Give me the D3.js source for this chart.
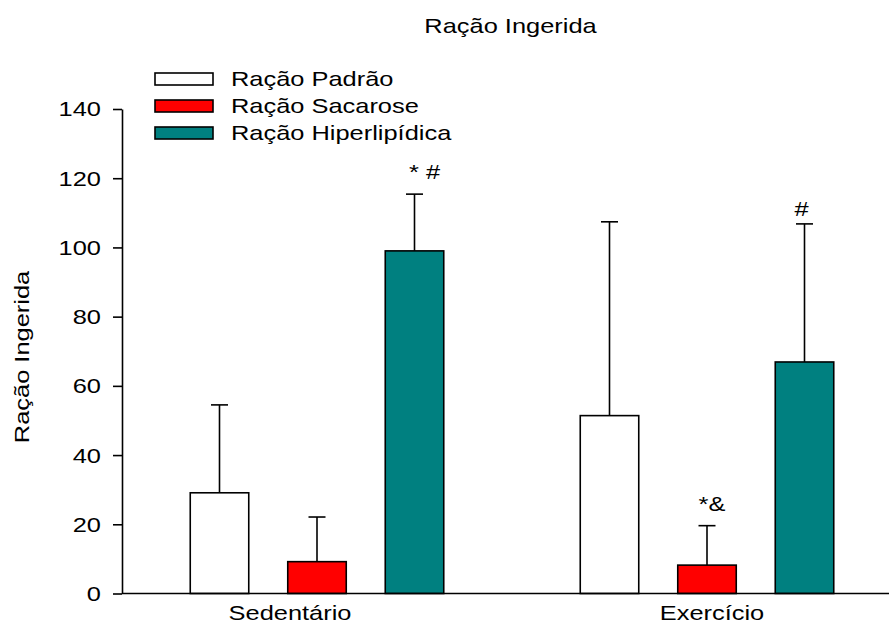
<!DOCTYPE html>
<html>
<head>
<meta charset="utf-8">
<script src="https://cdn.jsdelivr.net/npm/d3@7"></script>
<style>
  body { margin: 0; background: #fff; }
  svg { display: block; }
  text { font-family: "Liberation Sans", Arial, sans-serif; fill: #000; }
</style>
</head>
<body>
<svg id="chart" width="891" height="626"></svg>
<script>
// Feed intake per diet, sedentary vs exercised groups (mean + upper SD)
const groups = ["Sedentário", "Exercício"];
const series = ["Ração Padrão", "Ração Sacarose", "Ração Hiperlipídica"];
const seriesColors = ["#ffffff", "#ff0000", "#008080"];
const meanSedentario = [29.1, 9.2, 99.0];
const meanExercicio  = [51.4, 8.2, 66.9];
const sdSedentario   = [25.4, 12.9, 16.4];
const sdExercicio    = [56.0, 11.4, 39.9];
const yTicks = [0, 20, 40, 60, 80, 100, 120, 140];
const significance = [
  { group: "Sedentário", series: "Ração Hiperlipídica", text: "* #" },
  { group: "Exercício",  series: "Ração Sacarose",      text: "*&" },
  { group: "Exercício",  series: "Ração Hiperlipídica", text: "#" }
];
const titleText = "Ração Ingerida";
const yTitleText = "Ração Ingerida";

const means = { "Sedentário": meanSedentario, "Exercício": meanExercicio };
const sds   = { "Sedentário": sdSedentario,   "Exercício": sdExercicio };
const rows = groups.flatMap(g => series.map((s, i) => ({
  group: g, series: s, mean: means[g][i], sd: sds[g][i], color: seriesColors[i]
})));

// wide lettering: glyphs widened along the reading direction
const SX = 1.24;
const FS = 20.5;

const svg = d3.select("#chart");
const axisLeftX = 122, axisRightX = 889;
const y = d3.scaleLinear().domain([0, 140]).range([593.5, 109]);
const x0 = d3.scaleBand().domain(groups).range([axisLeftX, axisLeftX + 780]);
const clusterW = 292.5;
const x1 = d3.scaleBand().domain(series).range([0, clusterW]).paddingInner(0.4).paddingOuter(0.2);
const groupLeft = g => x0(g) + (x0.bandwidth() - clusterW) / 2;
const barX = d => groupLeft(d.group) + x1(d.series);
const barCx = d => barX(d) + x1.bandwidth() / 2;

const stretch = (tx, ty) => `translate(${tx},${ty}) scale(${SX},1)`;

// title
svg.append("text")
  .attr("text-anchor", "middle")
  .attr("font-size", FS)
  .attr("transform", stretch(510.5, 33))
  .text(titleText);

// y axis
const yAxis = svg.append("g")
  .attr("transform", `translate(${axisLeftX},0)`)
  .call(d3.axisLeft(y).tickValues(yTicks).tickSize(9).tickSizeOuter(0).tickFormat(d3.format("d")));
yAxis.attr("font-size", FS).attr("font-family", null);
yAxis.selectAll("path.domain").attr("stroke", "#000").attr("stroke-width", 1.6);
yAxis.selectAll(".tick line").attr("stroke", "#000").attr("stroke-width", 1.6);
yAxis.selectAll(".tick text")
  .attr("x", 0)
  .attr("dy", "0.34em")
  .attr("transform", stretch(-21, 0));

// y axis title
svg.append("text")
  .attr("text-anchor", "middle")
  .attr("font-size", FS)
  .attr("transform", `translate(29,357) rotate(-90) scale(${SX},1)`)
  .text(yTitleText);

// bars
svg.append("g").selectAll("rect")
  .data(rows)
  .join("rect")
  .attr("x", barX)
  .attr("width", x1.bandwidth())
  .attr("y", d => y(d.mean))
  .attr("height", d => y(0) - y(d.mean))
  .attr("fill", d => d.color)
  .attr("stroke", "#000")
  .attr("stroke-width", 1.6);

// upper error bars
const capW = 17;
const eb = svg.append("g").attr("stroke", "#000").attr("stroke-width", 1.6);
eb.selectAll("line.stem").data(rows).join("line").attr("class", "stem")
  .attr("x1", barCx).attr("x2", barCx)
  .attr("y1", d => y(d.mean)).attr("y2", d => y(d.mean + d.sd));
eb.selectAll("line.cap").data(rows).join("line").attr("class", "cap")
  .attr("x1", d => barCx(d) - capW / 2).attr("x2", d => barCx(d) + capW / 2)
  .attr("y1", d => y(d.mean + d.sd)).attr("y2", d => y(d.mean + d.sd));

// x axis baseline
svg.append("line")
  .attr("x1", axisLeftX).attr("x2", axisRightX)
  .attr("y1", y(0)).attr("y2", y(0))
  .attr("stroke", "#000").attr("stroke-width", 1.6);

// group labels
const labelShift = { "Sedentário": -27, "Exercício": 5 };
svg.append("g").selectAll("text")
  .data(groups)
  .join("text")
  .attr("text-anchor", "middle")
  .attr("font-size", FS)
  .attr("transform", g => stretch(x0(g) + x0.bandwidth() / 2 + labelShift[g], 620))
  .text(g => g);

// significance marks above error bars (small per-mark nudges)
const markNudge = { "* #": [10, 2], "*&": [5, 2], "#": [-3, -5] };
svg.append("g").selectAll("text")
  .data(significance)
  .join("text")
  .attr("text-anchor", "middle")
  .attr("font-size", FS)
  .attr("transform", a => {
    const d = rows.find(r => r.group === a.group && r.series === a.series);
    const [nx, ny] = markNudge[a.text] || [0, 0];
    return stretch(barCx(d) + nx, y(d.mean + d.sd) - 13 - ny);
  })
  .text(a => a.text);

// legend
const legend = svg.append("g").selectAll("g")
  .data(series)
  .join("g")
  .attr("transform", (s, i) => `translate(155,${79 + i * 27})`);
legend.append("rect")
  .attr("x", 0).attr("y", -6).attr("width", 58).attr("height", 12)
  .attr("fill", (s, i) => seriesColors[i])
  .attr("stroke", "#000").attr("stroke-width", 1.6);
legend.append("text")
  .attr("font-size", FS)
  .attr("dy", "0.35em")
  .attr("transform", stretch(76, 0))
  .text(s => s);
</script>
</body>
</html>
